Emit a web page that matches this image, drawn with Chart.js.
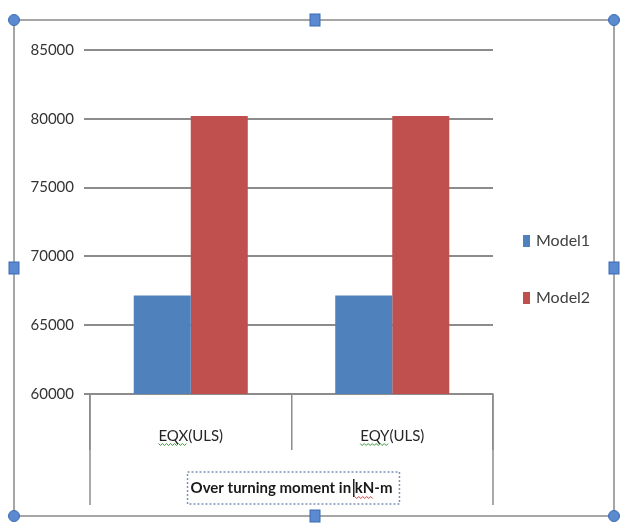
<!DOCTYPE html>
<html>
<head>
<meta charset="utf-8">
<script src="https://cdn.jsdelivr.net/npm/chart.js@4/dist/chart.umd.min.js"></script>
<style>
  html, body { margin: 0; padding: 0; background: #fff; }
  #wrap { width: 620px; height: 527px; position: relative; }
</style>
</head>
<body>
<div id="wrap"><canvas id="myChart"></canvas></div>
<script>
var categories = ['EQX(ULS)', 'EQY(ULS)'];
var seriesNames = ['Model1', 'Model2'];
var model1 = [67150, 67150];
var model2 = [80200, 80200];
var yTicks = [60000, 65000, 70000, 75000, 80000, 85000];
var axisTitle = 'Over turning moment in kN-m';

var colors = ['#4F81BD', '#C0504D'];
var fontName = 'Lato, "Open Sans", sans-serif';
var titleFont = 'bold 15px ' + fontName;

// little wavy spell-check underline
function squiggle(ctx, x0, x1, y, color) {
    ctx.strokeStyle = color;
    ctx.lineWidth = 1;
    ctx.beginPath();
    for (var px = x0, k = 0; px <= x1; px += 2, k++) {
        var py = y + (k % 2 ? 1.5 : -0.5);
        if (k === 0) ctx.moveTo(px, py); else ctx.lineTo(px, py);
    }
    ctx.stroke();
}

// selection frame, legend, category dividers and the dashed title box
var decorations = {
    id: 'decorations',
    afterDraw: function (chart) {
        var ctx = chart.ctx;
        var area = chart.chartArea;
        var x = chart.scales.x;

        ctx.save();
        // long outer dividers below the axis
        ctx.strokeStyle = '#8c8c8c';
        ctx.lineWidth = 1.5;
        [area.left, area.right].forEach(function (px) {
            ctx.beginPath();
            ctx.moveTo(px, area.bottom);
            ctx.lineTo(px, 505);
            ctx.stroke();
        });

        // green underline under the first word of each category
        ctx.font = '15px ' + fontName;
        categories.forEach(function (c, i) {
            var cx = x.getPixelForValue(i);
            var full = ctx.measureText(c).width;
            var part = ctx.measureText(c.slice(0, 3)).width;
            squiggle(ctx, cx - full / 2, cx - full / 2 + part, 444, '#3a9a3a');
        });

        // dashed box round the axis title, red mark under the unit
        ctx.font = titleFont;
        var tw = ctx.measureText(axisTitle).width;
        var mid = (area.left + area.right) / 2;
        var unitX = mid - tw / 2 + ctx.measureText(axisTitle.slice(0, 23)).width;
        squiggle(ctx, unitX, unitX + ctx.measureText('kN').width, 497, '#d04040');
        ctx.strokeStyle = '#222';
        ctx.lineWidth = 1.5;
        ctx.beginPath();
        ctx.moveTo(unitX - 1, 479);
        ctx.lineTo(unitX - 1, 497);
        ctx.stroke();
        ctx.setLineDash([2, 2]);
        ctx.strokeStyle = '#7f8fb5';
        ctx.lineWidth = 1.5;
        ctx.strokeRect(mid - tw / 2 - 3, 472, tw + 10, 32);
        ctx.setLineDash([]);

        // legend
        ctx.textBaseline = 'middle';
        ctx.textAlign = 'left';
        ctx.font = '16px ' + fontName;
        chart.data.datasets.forEach(function (ds, i) {
            var ly = 241 + i * 57;
            ctx.fillStyle = ds.backgroundColor;
            ctx.fillRect(523, ly - 6, 7, 12);
            ctx.fillStyle = '#404040';
            ctx.fillText(ds.label, 536, ly);
        });

        // selection frame with handles
        ctx.strokeStyle = '#a6a6a6';
        ctx.lineWidth = 2;
        ctx.strokeRect(14, 20, 600, 496);
        var corners = [[14, 20], [614, 20], [14, 516], [614, 516]];
        corners.forEach(function (p) {
            ctx.beginPath();
            ctx.arc(p[0], p[1], 5.5, 0, Math.PI * 2);
            ctx.fillStyle = '#5b8ad0';
            ctx.fill();
            ctx.strokeStyle = '#3d6bb3';
            ctx.lineWidth = 1;
            ctx.stroke();
        });
        var mids = [[315, 20], [315, 516], [14, 268], [614, 268]];
        mids.forEach(function (p) {
            ctx.fillStyle = '#5b8ad0';
            ctx.fillRect(p[0] - 5, p[1] - 6, 10, 12);
            ctx.strokeStyle = '#3d6bb3';
            ctx.lineWidth = 1;
            ctx.strokeRect(p[0] - 5, p[1] - 6, 10, 12);
        });
        ctx.restore();
    }
};

var ctx = document.getElementById('myChart').getContext('2d');
var myChart = new Chart(ctx, {
    type: 'bar',
    data: {
        labels: categories,
        datasets: [
            { label: seriesNames[0], data: model1, backgroundColor: colors[0] },
            { label: seriesNames[1], data: model2, backgroundColor: colors[1] }
        ]
    },
    options: {
        responsive: true,
        maintainAspectRatio: false,
        animation: false,
        layout: { padding: { left: 0, top: 50, right: 127, bottom: 0 } },
        categoryPercentage: 0.566,
        barPercentage: 1.0,
        plugins: {
            legend: { display: false },
            tooltip: { enabled: false }
        },
        scales: {
            x: {
                afterFit: function (scale) { scale.height = 133; },
                grid: {
                    drawOnChartArea: false,
                    drawTicks: true,
                    tickLength: 56,
                    color: '#8c8c8c',
                    lineWidth: 1.5
                },
                border: { display: true, color: '#8c8c8c', width: 2 },
                ticks: {
                    padding: -23,
                    color: '#262626',
                    font: { family: fontName, size: 15 }
                },
                title: {
                    display: true,
                    text: axisTitle,
                    color: '#1a1a1a',
                    font: { family: fontName, size: 15, weight: 'bold' },
                    padding: { top: 0, bottom: 30 }
                }
            },
            y: {
                min: yTicks[0],
                max: yTicks[yTicks.length - 1],
                afterFit: function (scale) { scale.width = 90; },
                afterBuildTicks: function (scale) {
                    scale.ticks = yTicks.map(function (v) { return { value: v }; });
                },
                grid: {
                    color: '#8c8c8c',
                    lineWidth: 2,
                    drawTicks: true,
                    tickLength: 6
                },
                border: { display: false },
                ticks: {
                    padding: 10,
                    color: '#333',
                    font: { family: fontName, size: 15 },
                    callback: function (v) { return String(v); }
                }
            }
        }
    },
    plugins: [decorations]
});
</script>
</body>
</html>
